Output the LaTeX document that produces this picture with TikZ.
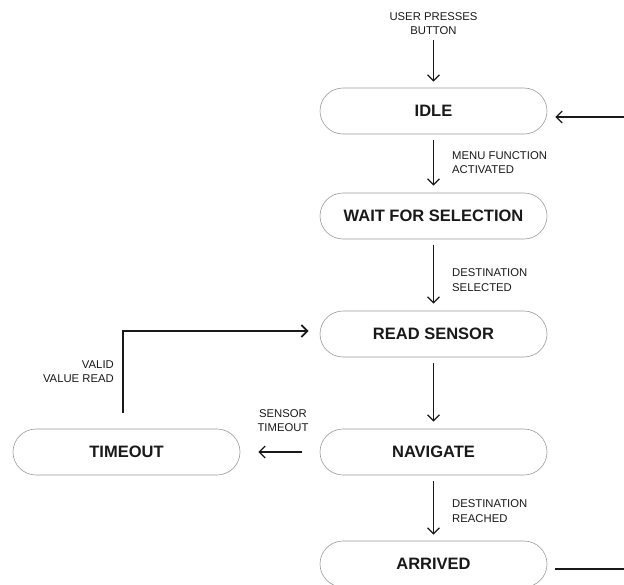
\documentclass[tikz,border=0pt]{standalone}
\usepackage{fontspec}
\setmainfont{Liberation Sans}
\usetikzlibrary{arrows.meta}
\tikzset{
  state/.style={draw=black!40, line width=0.6pt, rounded corners=23pt,
    minimum width=227pt, minimum height=46pt, inner sep=0pt,
    font=\fontsize{16.5}{19}\selectfont\bfseries, text=black!90},
  lbl/.style={inner sep=0pt, font=\fontsize{11.3}{14.5}\selectfont, text=black!90},
  arr/.style={draw=black!90, line width=1.3pt, -{Straight Barb[length=6pt,width=12pt]}},
}
\begin{document}
\begin{tikzpicture}[x=1pt,y=-1pt]
\useasboundingbox[fill=white] (0,0) rectangle (624,584);
\clip (0,0) rectangle (624,584);
% states
\node[state] (idle) at (433.5,111) {IDLE};
\node[state] (wait) at (433.5,216) {WAIT FOR SELECTION};
\node[state] (read) at (433.5,334) {READ SENSOR};
\node[state] (nav) at (433.5,452) {NAVIGATE};
\node[state] (arrived) at (433.5,564) {ARRIVED};
\node[state] (timeout) at (126.5,452) {TIMEOUT};
% labels
\node[lbl, align=center] (lstart) at (433.5,23.5) {USER PRESSES\\BUTTON};
\node[lbl, align=left, anchor=west] (l1) at (452,162.5) {MENU FUNCTION\\ACTIVATED};
\node[lbl, align=left, anchor=west] (l2) at (452,280) {DESTINATION\\SELECTED};
\node[lbl, align=left, anchor=west] (l3) at (452,511) {DESTINATION\\REACHED};
\node[lbl, align=center] (l4) at (283,420.5) {SENSOR\\TIMEOUT};
\node[lbl, align=right, anchor=east] (l5) at (114,371.5) {VALID\\VALUE READ};
% connectors
\coordinate (s0) at (433.5,40);
\draw[arr, shorten >=6pt] (s0) -- (idle.north);
\draw[arr, shorten <=6pt, shorten >=7pt] (idle.south) -- (wait.north);
\draw[arr, shorten <=6pt, shorten >=7pt] (wait.south) -- (read.north);
\draw[arr, shorten <=6pt, shorten >=7pt] (read.south) -- (nav.north);
\draw[arr, shorten <=6pt, shorten >=6pt] (nav.south) -- (arrived.north);
\draw[arr, shorten <=18pt, shorten >=18pt] (nav.west) -- (timeout.east);
\draw[arr, line width=1.8pt, shorten >=11pt] ([xshift=-3.5pt,yshift=16pt]timeout.north) |- ([yshift=3pt]read.west);
\coordinate (loop) at (660,569);
\draw[arr, shorten >=8pt] ([xshift=8pt,yshift=-5pt]arrived.east) -- (loop) |- ([yshift=-6pt]idle.east);
\end{tikzpicture}
\end{document}
